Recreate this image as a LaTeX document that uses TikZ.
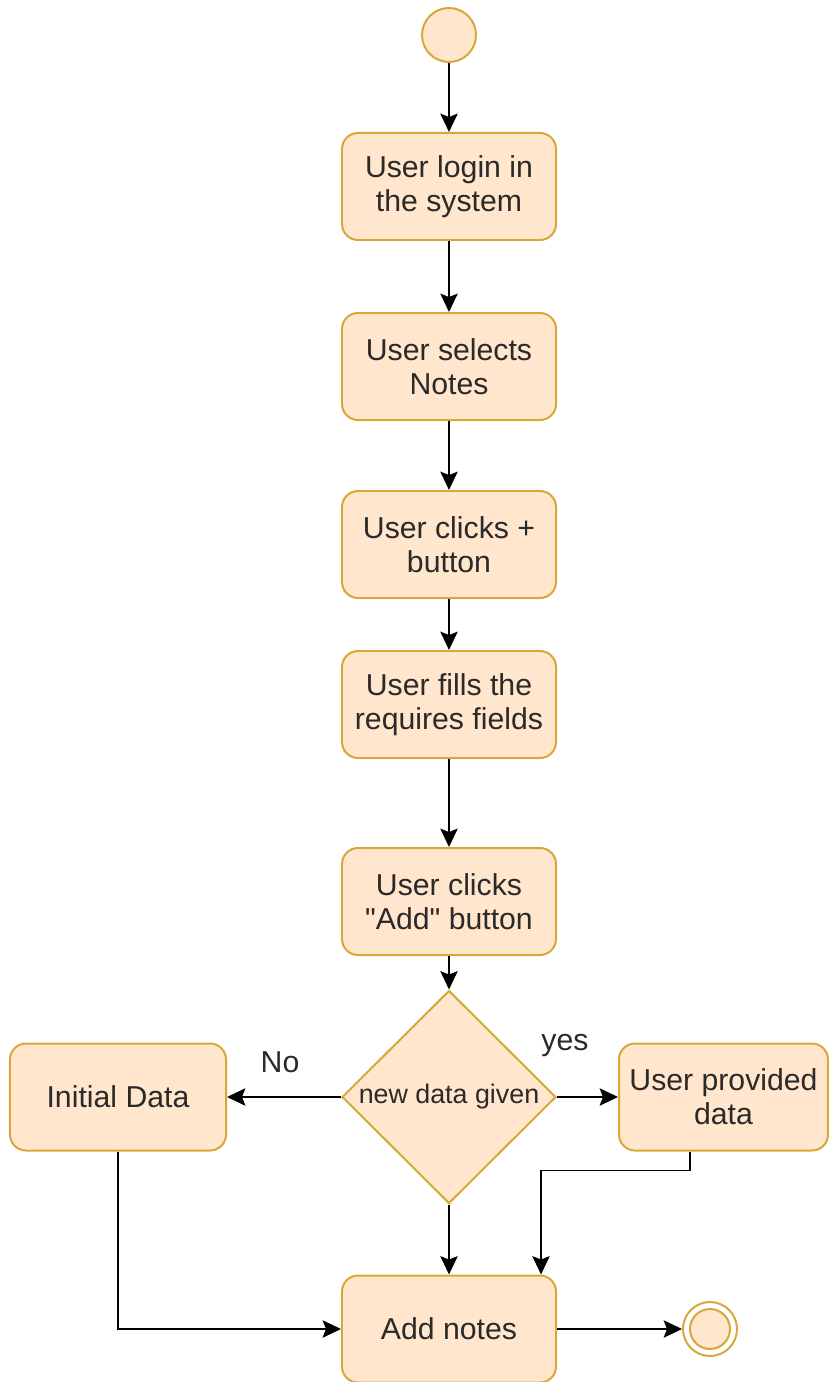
\documentclass[tikz,border=0pt]{standalone}
\usepackage{fontspec}
\setmainfont{Liberation Sans}
\usetikzlibrary{shapes.geometric,arrows.meta,calc}
\definecolor{actfill}{HTML}{FFE6CC}
\definecolor{actline}{HTML}{D6A83A}
\definecolor{txt}{HTML}{2A2A2A}
\tikzset{
  act/.style={draw=actline, fill=actfill, line width=1.7pt, rounded corners=0.48cm,
    minimum width=6.42cm, minimum height=3.21cm, align=center, text=txt,
    font=\fontsize{25.8}{29}\selectfont, inner sep=0pt},
  decision/.style={diamond, draw=actline, fill=actfill, line width=1.7pt,
    minimum width=6.42cm, minimum height=6.39cm, inner sep=0pt, text=txt,
    font=\fontsize{22.9}{27}\selectfont},
  initial/.style={circle, draw=actline, fill=actfill, line width=1.7pt, minimum size=1.62cm, inner sep=0pt},
  final/.style={circle, draw=actline, fill=white, line width=1.7pt, minimum size=1.62cm, inner sep=0pt},
  arr/.style={draw=black, line width=1.6pt, -{Stealth[length=0.55cm, width=0.52cm, inset=0.1cm]}},
  lbl/.style={text=txt, font=\fontsize{25.8}{29}\selectfont, inner sep=0pt},
}
\begin{document}
\begin{tikzpicture}[x=0.03cm, y=-0.03cm]
\useasboundingbox (0,0) rectangle (828,1382);

\node[initial] (start) at (449,35) {};
\node[act] (b1) at (449,186.5) {User login in\\the system};
\node[act] (b2) at (449,366.5) {User selects\\Notes};
\node[act] (b3) at (449,544.5) {User clicks +\\button};
\node[act] (b4) at (449,704.5) {User fills the\\requires fields};
\node[act] (b5) at (449,901.5) {User clicks\\\textquotedbl Add\textquotedbl{} button};
\node[decision] (dec) at (449,1097) {new data given};
\node[act, minimum width=6.48cm] (init) at (118,1097) {Initial Data};
\node[act, minimum width=6.27cm] (user) at (723.5,1097) {User provided\\data};
\node[act] (add) at (449,1329) {Add notes};
\node[final] (end) at (710,1329) {};
\fill[actfill, draw=actline, line width=1.7pt] (end.center) circle (0.6cm);

\node[lbl] (no) at (280,1062) {No};
\node[lbl] (yes) at (565,1045) {yes};

\draw[arr] (start) -- (b1);
\draw[arr] (b1) -- (b2);
\draw[arr] (b2) -- (b3);
\draw[arr] (b3) -- (b4);
\draw[arr] (b4) -- (b5);
\draw[arr] (b5) -- (dec);
\draw[arr] (dec.west) -- (init.east);
\draw[arr] (dec.east) -- (user.west);
\draw[arr] (dec.south) -- (add.north);
\draw[arr] ([xshift=-1.0cm]user.south) -- ++(0,19) -| ([xshift=2.76cm]add.north);
\draw[arr] (init.south) |- (add.west);
\draw[arr] (add.east) -- (end.west);
\end{tikzpicture}
\end{document}
